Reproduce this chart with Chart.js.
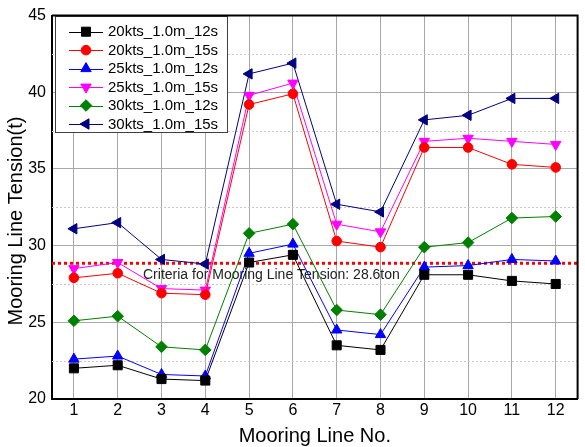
<!DOCTYPE html>
<html><head><meta charset="utf-8">
<script src="https://cdn.jsdelivr.net/npm/chart.js@4/dist/chart.umd.min.js"></script>
<style>html,body{margin:0;padding:0;background:#fff;overflow:hidden}#wrap{width:585px;height:447px}</style>
</head><body><div id="wrap"><canvas id="c" width="585" height="447"></canvas></div>
<script>
// ---- data ----
const categories = ['1','2','3','4','5','6','7','8','9','10','11','12'];
const s20kts_12s = [22.0,22.2,21.3,21.2,28.9,29.4,23.5,23.2,28.1,28.1,27.7,27.5];
const s20kts_15s = [27.9,28.2,26.9,26.8,39.2,39.9,30.3,29.9,36.4,36.4,35.3,35.1];
const s25kts_12s = [22.6,22.8,21.6,21.5,29.5,30.1,24.5,24.2,28.6,28.7,29.1,29.0];
const s25kts_15s = [28.5,28.9,27.2,27.1,39.8,40.6,31.4,30.9,36.8,37.0,36.8,36.6];
const s30kts_12s = [25.1,25.4,23.4,23.2,30.8,31.4,25.8,25.5,29.9,30.2,31.8,31.9];
const s30kts_15s = [31.1,31.5,29.1,28.8,41.2,41.9,32.7,32.2,38.2,38.5,39.6,39.6];
const seriesNames = ['20kts_1.0m_12s','20kts_1.0m_15s','25kts_1.0m_12s','25kts_1.0m_15s','30kts_1.0m_12s','30kts_1.0m_15s'];
const yTicks = [20,25,30,35,40,45];
const yMinorTicks = [22.5,27.5,32.5,37.5,42.5];
const criteriaValue = 28.85;
const criteriaLabel = 'Criteria for Mooring Line Tension: 28.6ton';
const xTitle = 'Mooring Line No.';
const yTitle = 'Mooring Line Tension(t)';

// ---- styles ----
const FONT = "Arial, 'Liberation Sans', sans-serif";
const colors = ['#000000','#ff0000','#0000ff','#ff00ff','#008000','#000080'];
const styles = [
  {pointStyle:'rect', rotation:0, radius:6.4},
  {pointStyle:'circle', rotation:0, radius:4.8},
  {pointStyle:'triangle', rotation:0, radius:6},
  {pointStyle:'triangle', rotation:180, radius:6},
  {pointStyle:'rectRot', rotation:0, radius:5.8},
  {pointStyle:'triangle', rotation:-90, radius:6}
];
const seriesData = [s20kts_12s,s20kts_15s,s25kts_12s,s25kts_15s,s30kts_12s,s30kts_15s];

const datasets = seriesData.map((d,i)=>({
  label: seriesNames[i],
  data: d,
  borderColor: colors[i],
  backgroundColor: colors[i],
  borderWidth: 1,
  pointStyle: styles[i].pointStyle,
  pointRotation: styles[i].rotation,
  pointRadius: styles[i].radius,
  pointHoverRadius: styles[i].radius,
  pointBackgroundColor: colors[i],
  pointBorderColor: colors[i],
  pointBorderWidth: 1,
  tension: 0,
  fill: false
}));

const decor = {
  id: 'decor',
  beforeDatasetsDraw(chart){
    const ctx = chart.ctx, a = chart.chartArea, ys = chart.scales.y;
    ctx.save();
    // minor dotted grid
    ctx.strokeStyle = '#c8c8c8'; ctx.lineWidth = 1; ctx.setLineDash([2,2]);
    yMinorTicks.forEach(v=>{
      const y = Math.round(ys.getPixelForValue(v)) + 0.5;
      ctx.beginPath(); ctx.moveTo(a.left, y); ctx.lineTo(a.right, y); ctx.stroke();
    });
    // criteria line
    ctx.strokeStyle = '#ff0000'; ctx.lineWidth = 3; ctx.setLineDash([3,3]);
    const cy = ys.getPixelForValue(criteriaValue);
    ctx.beginPath(); ctx.moveTo(a.left, cy); ctx.lineTo(a.right, cy); ctx.stroke();
    ctx.setLineDash([]);
    ctx.fillStyle = '#222'; ctx.font = '14px ' + FONT; ctx.textAlign = 'left'; ctx.textBaseline = 'alphabetic';
    ctx.fillText(criteriaLabel, 143, cy + 16);
    ctx.restore();
  },
  afterDatasetsDraw(chart){
    const ctx = chart.ctx;
    const x0 = 55, y0 = 16, w = 172, h = 116;
    ctx.save();
    ctx.fillStyle = '#fff'; ctx.fillRect(x0, y0, w, h);
    ctx.strokeStyle = '#404040'; ctx.lineWidth = 1;
    ctx.strokeRect(x0 + 0.5, y0 + 0.5, w, h);
    chart.data.datasets.forEach((ds,i)=>{
      const y = 31.7 + i*18.46;
      ctx.strokeStyle = ds.borderColor; ctx.lineWidth = 1;
      ctx.beginPath(); ctx.moveTo(69, Math.round(y)+0.5); ctx.lineTo(103, Math.round(y)+0.5); ctx.stroke();
      ctx.fillStyle = ds.pointBackgroundColor; ctx.strokeStyle = ds.pointBorderColor;
      if (Chart.helpers && Chart.helpers.drawPoint) {
        Chart.helpers.drawPoint(ctx, {pointStyle: ds.pointStyle, rotation: ds.pointRotation, radius: ds.pointRadius, borderWidth: 1}, 86, y);
      } else {
        ctx.beginPath(); ctx.arc(86, y, 5, 0, Math.PI*2); ctx.fill();
      }
      ctx.fillStyle = '#000'; ctx.font = '15px ' + FONT; ctx.textAlign = 'left'; ctx.textBaseline = 'middle';
      ctx.fillText(ds.label, 108, y + 0.5);
    });
    ctx.restore();
  },
  afterDraw(chart){
    const ctx = chart.ctx, a = chart.chartArea;
    ctx.save();
    ctx.strokeStyle = '#000'; ctx.lineWidth = 2;
    ctx.beginPath();
    ctx.moveTo(a.left, a.top); ctx.lineTo(a.right, a.top); ctx.lineTo(a.right, a.bottom);
    ctx.stroke();
    ctx.fillStyle = '#000'; ctx.font = '20px ' + FONT; ctx.textAlign = 'center'; ctx.textBaseline = 'alphabetic';
    ctx.fillText(xTitle, (a.left + a.right)/2, 442);
    ctx.translate(22, 221); ctx.rotate(-Math.PI/2);
    ctx.fillText(yTitle, 0, 0);
    ctx.restore();
  }
};

new Chart(document.getElementById('c'), {
  type: 'line',
  data: { labels: categories, datasets },
  plugins: [decor],
  options: {
    responsive: false,
    devicePixelRatio: 1,
    animation: false,
    layout: { padding: { top: 14, right: 1, left: 0, bottom: 0 } },
    plugins: { legend: { display: false }, tooltip: { enabled: false } },
    scales: {
      x: {
        type: 'category',
        offset: true,
        grid: { color: '#a8a8a8', lineWidth: 1, drawTicks: false, offset: false },
        border: { color: '#000', width: 2 },
        ticks: { color: '#000', font: { size: 16, family: FONT }, padding: 2, maxRotation: 0, autoSkip: false },
        afterFit(s){ s.height = 48; }
      },
      y: {
        min: 20, max: 45,
        afterBuildTicks(s){ s.ticks = yTicks.map(v=>({value:v})); },
        grid: { color: '#a8a8a8', lineWidth: 1, drawTicks: false },
        border: { color: '#000', width: 2 },
        ticks: { color: '#000', font: { size: 16, family: FONT }, padding: 6 },
        afterFit(s){ s.width = 52; }
      }
    }
  }
});
</script></body></html>
